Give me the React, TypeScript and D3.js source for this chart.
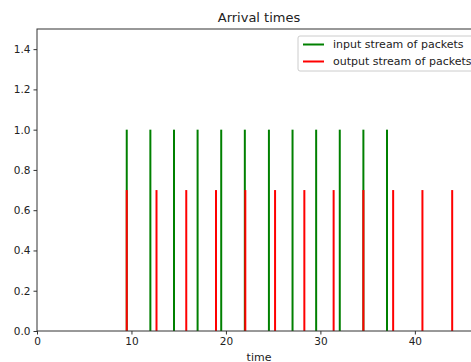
import { useEffect, useRef } from 'react';
import * as d3 from 'd3';

// arrival times
const inputTimes = [9.5, 12.0, 14.5, 17.0, 19.5, 22.0, 24.55, 27.05, 29.55, 32.05, 34.55, 37.05];
const outputTimes = [9.5, 12.65, 15.8, 18.95, 22.05, 25.2, 28.3, 31.4, 34.55, 37.7, 40.8, 43.95];
const inputHeight = 1.0;
const outputHeight = 0.7;
const xTicks = [0, 10, 20, 30, 40];
const yTicks = [0, 0.2, 0.4, 0.6, 0.8, 1.0, 1.2, 1.4];
const legendItems = [
  { label: 'input stream of packets', color: 'green' },
  { label: 'output stream of packets', color: 'red' },
];

const W = 471;
const H = 362;
const FONT = 'DejaVu Sans, sans-serif';

export default function App() {
  const ref = useRef<SVGSVGElement | null>(null);

  useEffect(() => {
    if (!ref.current) return;
    const svg = d3.select(ref.current);
    svg.selectAll('*').remove();

    const m = { left: 37, right: 481, top: 29, bottom: 331 };
    const x = d3.scaleLinear().domain([0, 47]).range([m.left, m.right]);
    const y = d3.scaleLinear().domain([0, 1.5]).range([m.bottom, m.top]);

    svg.append('rect').attr('width', W).attr('height', H).attr('fill', '#fff');

    /* ── stems ── */
    svg.append('g').selectAll('line').data(inputTimes).join('line')
      .attr('x1', d => x(d)).attr('x2', d => x(d))
      .attr('y1', y(0)).attr('y2', y(inputHeight))
      .attr('stroke', 'green').attr('stroke-width', 2);
    svg.append('g').selectAll('line').data(outputTimes).join('line')
      .attr('x1', d => x(d)).attr('x2', d => x(d))
      .attr('y1', y(0)).attr('y2', y(outputHeight))
      .attr('stroke', 'red').attr('stroke-width', 2);

    /* ── frame ── */
    svg.append('rect')
      .attr('x', m.left).attr('y', m.top)
      .attr('width', m.right - m.left).attr('height', m.bottom - m.top)
      .attr('fill', 'none').attr('stroke', '#333').attr('stroke-width', 1);

    /* ── axes ── */
    const xAxis = svg.append('g').attr('transform', `translate(0,${m.bottom})`)
      .call(d3.axisBottom(x).tickValues(xTicks).tickFormat(d3.format('d')).tickSize(3.5).tickPadding(3));
    const yAxis = svg.append('g').attr('transform', `translate(${m.left},0)`)
      .call(d3.axisLeft(y).tickValues(yTicks).tickFormat(d3.format('.1f')).tickSize(3.5).tickPadding(3));
    [xAxis, yAxis].forEach(a => {
      a.select('.domain').remove();
      a.selectAll('line').attr('stroke', '#333');
      a.selectAll('text').attr('font-family', FONT).attr('font-size', 10.5).attr('fill', '#222');
    });

    /* ── labels ── */
    svg.append('text').attr('x', (m.left + m.right) / 2).attr('y', 22)
      .attr('text-anchor', 'middle').attr('font-family', FONT).attr('font-size', 13)
      .attr('fill', '#222').text('Arrival times');
    svg.append('text').attr('x', (m.left + m.right) / 2).attr('y', 361)
      .attr('text-anchor', 'middle').attr('font-family', FONT).attr('font-size', 11)
      .attr('fill', '#222').text('time');

    /* ── legend ── */
    const lg = svg.append('g').attr('transform', 'translate(298,36)');
    lg.append('rect').attr('width', 182).attr('height', 35).attr('rx', 2)
      .attr('fill', '#fff').attr('fill-opacity', 0.8).attr('stroke', '#ccc');
    legendItems.forEach((it, i) => {
      const cy = 8.5 + i * 17;
      lg.append('line').attr('x1', 5).attr('x2', 26).attr('y1', cy).attr('y2', cy)
        .attr('stroke', it.color).attr('stroke-width', 2);
      lg.append('text').attr('x', 35).attr('y', cy).attr('dy', '0.35em')
        .attr('font-family', FONT).attr('font-size', 11).attr('fill', '#222').text(it.label);
    });
  }, []);

  return (
    <svg ref={ref} width={W} height={H}
      style={{ position: 'fixed', left: 0, top: 0, display: 'block' }} />
  );
}
